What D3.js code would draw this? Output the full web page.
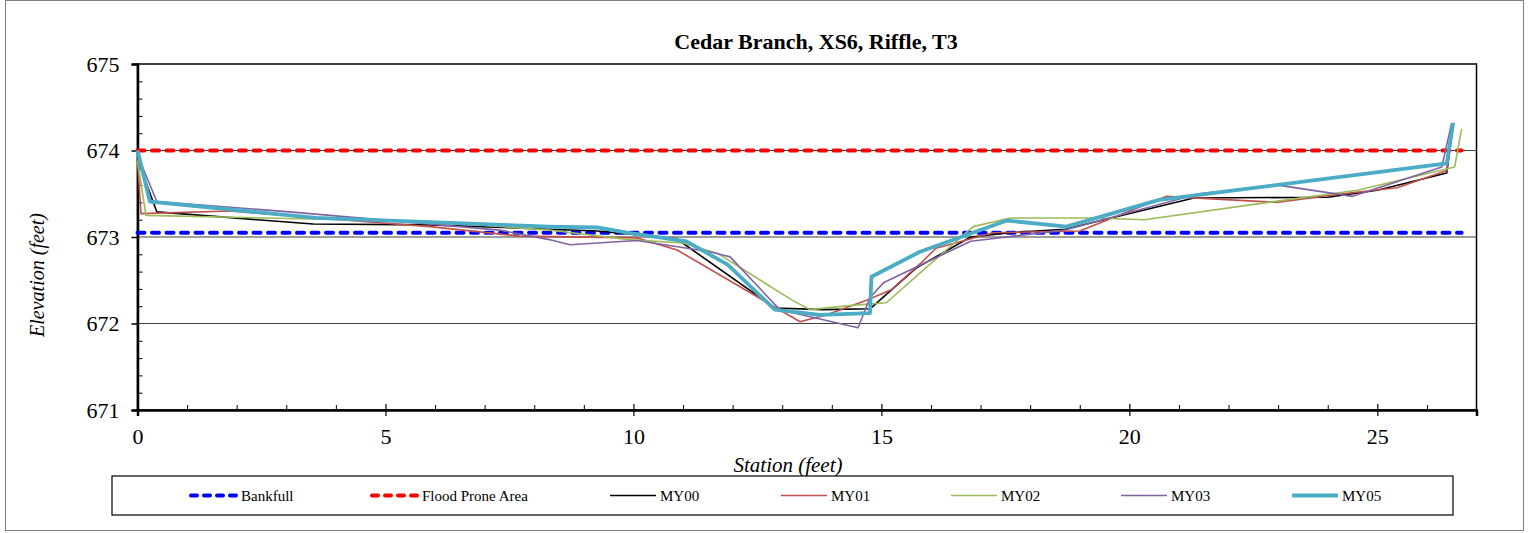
<!DOCTYPE html>
<html>
<head>
<meta charset="utf-8">
<script src="https://cdn.jsdelivr.net/npm/d3@7"></script>
<style>
  body { margin: 0; background: #fff; }
  text { font-family: "Liberation Serif", "Times New Roman", serif; fill: #000; }
</style>
</head>
<body>
<div id="chart"></div>
<script>
// survey data, station (ft) / elevation (ft)
const bankfull = 673.05;
const floodProne = 674.0;
const refStations = [0, 26.7];

const my00Station = [0, 0.39, 3.54, 5.9, 9.27, 10.87, 12.85, 13.82, 14.77, 15.7, 16.8, 17.6, 18.7, 21.3, 24.0, 25.0, 26.4, 26.53];
const my00Elev = [673.9, 673.29, 673.15, 673.14, 673.07, 672.98, 672.18, 672.16, 672.17, 672.64, 673.0, 673.05, 673.09, 673.45, 673.46, 673.54, 673.74, 674.3];

const my01Station = [0, 0.07, 1.86, 5.9, 7.7, 10.07, 10.88, 13.36, 13.9, 14.7, 15.2, 15.8, 16.1, 17.25, 19.0, 20.75, 22.97, 24.3, 25.4, 26.4, 26.5];
const my01Elev = [673.9, 673.27, 673.3, 673.12, 673.01, 672.99, 672.85, 672.02, 672.1, 672.27, 672.39, 672.7, 672.87, 673.05, 673.07, 673.47, 673.4, 673.5, 673.57, 673.77, 674.27];

const my02Station = [0, 0.17, 5.9, 8.3, 9.9, 11.0, 11.7, 13.2, 13.56, 14.4, 15.1, 15.85, 16.85, 17.6, 19.3, 20.3, 22.8, 24.6, 26.56, 26.7];
const my02Elev = [673.88, 673.25, 673.18, 673.08, 672.97, 672.93, 672.81, 672.27, 672.16, 672.21, 672.24, 672.62, 673.12, 673.22, 673.22, 673.2, 673.4, 673.54, 673.81, 674.25];

const my03Station = [0, 0.39, 3.07, 7.3, 8.3, 8.72, 10.07, 11.54, 11.95, 12.95, 14.53, 14.77, 15.04, 15.8, 16.8, 18.7, 21.4, 23.0, 24.5, 26.3, 26.5];
const my03Elev = [673.95, 673.41, 673.29, 673.08, 672.97, 672.91, 672.96, 672.83, 672.77, 672.16, 671.95, 672.3, 672.47, 672.68, 672.95, 673.08, 673.5, 673.6, 673.47, 673.81, 674.32];

const my05Station = [0, 0.25, 3.6, 8.3, 9.27, 9.87, 11.07, 11.9, 12.85, 13.76, 14.77, 14.8, 15.78, 17.53, 18.73, 20.6, 26.4, 26.53];
const my05Elev = [674.0, 673.41, 673.22, 673.12, 673.11, 673.05, 672.95, 672.68, 672.16, 672.1, 672.12, 672.54, 672.83, 673.19, 673.12, 673.43, 673.85, 674.32];

const xTicks = [0, 5, 10, 15, 20, 25];
const yTicks = [671, 672, 673, 674, 675];

const W = 1529, H = 533;
const m = { left: 137.5, right: 1476.5, top: 64, bottom: 410 };

const svg = d3.select('#chart').append('svg')
  .attr('width', W).attr('height', H);

// outer chart frame
svg.append('rect')
  .attr('x', 5.5).attr('y', 0.5).attr('width', 1518).attr('height', 530)
  .attr('fill', 'none').attr('stroke', '#7f7f7f').attr('stroke-width', 1);

const x = d3.scaleLinear().domain([0, 27]).range([m.left, m.right]);
const y = d3.scaleLinear().domain([671, 675]).range([m.bottom, m.top]);

// gridlines
svg.append('g').selectAll('line')
  .data([672, 673, 674]).enter().append('line')
  .attr('x1', m.left).attr('x2', m.right)
  .attr('y1', d => y(d)).attr('y2', d => y(d))
  .attr('stroke', '#404040').attr('stroke-width', 1.2);

// plot border
svg.append('rect')
  .attr('x', m.left).attr('y', m.top)
  .attr('width', m.right - m.left).attr('height', m.bottom - m.top)
  .attr('fill', 'none').attr('stroke', '#000').attr('stroke-width', 1.5);

// y axis: major ticks out, minor ticks in
const yAxis = svg.append('g').attr('transform', `translate(${m.left},0)`)
  .call(d3.axisLeft(y).tickValues(yTicks).tickSize(6).tickPadding(12).tickFormat(d3.format('d')));
yAxis.select('.domain').attr('stroke-width', 2.5);
yAxis.selectAll('.tick line').attr('stroke-width', 1.5);
yAxis.selectAll('text').style('font-size', '22px').style('font-family', '"Liberation Serif", serif');
svg.append('g').attr('transform', `translate(${m.left},0)`)
  .call(d3.axisRight(y).tickValues(d3.range(671, 675.01, 0.2).filter(v => Math.abs(v - Math.round(v)) > 0.01)).tickSize(5).tickFormat(''))
  .call(g => g.select('.domain').remove());

// x axis: minor every foot, inward; major crosses axis
const xAxis = svg.append('g').attr('transform', `translate(0,${m.bottom})`)
  .call(d3.axisBottom(x).tickValues(xTicks).tickSize(6).tickPadding(12));
xAxis.select('.domain').attr('stroke-width', 2.5);
xAxis.selectAll('.tick line').attr('y1', -6).attr('stroke-width', 1.2);
xAxis.selectAll('text').style('font-size', '22px').style('font-family', '"Liberation Serif", serif');
svg.append('g').attr('transform', `translate(0,${m.bottom})`)
  .call(d3.axisTop(x).tickValues(d3.range(1, 27).filter(v => v % 5 !== 0)).tickSize(5).tickFormat(''))
  .call(g => g.select('.domain').remove());

// reference lines
const refLines = [
  { name: 'Bankfull', value: bankfull, color: '#0000ff' },
  { name: 'Flood Prone Area', value: floodProne, color: '#ff0000' }
];
refLines.forEach(r => {
  svg.append('line')
    .attr('x1', x(refStations[0])).attr('x2', x(refStations[1]))
    .attr('y1', y(r.value)).attr('y2', y(r.value))
    .attr('stroke', r.color).attr('stroke-width', 4)
    .attr('stroke-dasharray', '7,7.5').attr('stroke-linecap', 'round');
});

// survey lines
const surveys = [
  { name: 'MY00', s: my00Station, e: my00Elev, color: '#000000', w: 1.6 },
  { name: 'MY01', s: my01Station, e: my01Elev, color: '#c0504d', w: 1.6 },
  { name: 'MY02', s: my02Station, e: my02Elev, color: '#9bbb59', w: 1.6 },
  { name: 'MY03', s: my03Station, e: my03Elev, color: '#8064a2', w: 1.6 },
  { name: 'MY05', s: my05Station, e: my05Elev, color: '#4bacc6', w: 3.8 }
];
const line = d3.line().x(d => x(d[0])).y(d => y(d[1]));
surveys.forEach(sv => {
  svg.append('path')
    .datum(sv.s.map((v, i) => [v, sv.e[i]]))
    .attr('d', line)
    .attr('fill', 'none')
    .attr('stroke', sv.color)
    .attr('stroke-width', sv.w)
    .attr('stroke-linejoin', 'round');
});

// title and axis titles
svg.append('text').attr('x', 816).attr('y', 49).attr('text-anchor', 'middle')
  .style('font-size', '22px').style('font-weight', 'bold')
  .text('Cedar Branch, XS6, Riffle, T3');
svg.append('text').attr('x', 788).attr('y', 472).attr('text-anchor', 'middle')
  .style('font-size', '21px').style('font-style', 'italic')
  .text('Station (feet)');
svg.append('text').attr('transform', 'translate(44,275) rotate(-90)').attr('text-anchor', 'middle')
  .style('font-size', '20px').style('font-style', 'italic')
  .text('Elevation (feet)');

// legend
svg.append('rect')
  .attr('x', 112).attr('y', 476).attr('width', 1341).attr('height', 39)
  .attr('fill', '#fff').attr('stroke', '#000').attr('stroke-width', 1.2);
const legendItems = [
  { name: 'Bankfull', color: '#0000ff', w: 4, dash: true },
  { name: 'Flood Prone Area', color: '#ff0000', w: 4, dash: true },
  ...surveys.map(sv => ({ name: sv.name, color: sv.color, w: sv.w, dash: false }))
];
const legendX = [191, 372, 610, 781, 951, 1121, 1292];
legendItems.forEach((it, i) => {
  const lx = legendX[i];
  svg.append('line')
    .attr('x1', lx).attr('x2', lx + 46).attr('y1', 495.5).attr('y2', 495.5)
    .attr('stroke', it.color).attr('stroke-width', it.w)
    .attr('stroke-dasharray', it.dash ? '6,7' : null)
    .attr('stroke-linecap', it.dash ? 'round' : 'butt');
  svg.append('text').attr('x', lx + 50).attr('y', 500.5)
    .style('font-size', '15px').text(it.name);
});
</script>
</body>
</html>
